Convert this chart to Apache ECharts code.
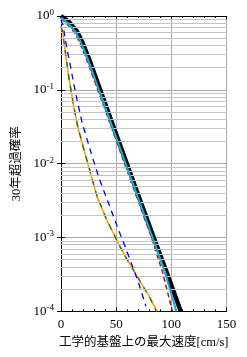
<!DOCTYPE html>
<html>
<head>
<meta charset="utf-8">
<script src="https://cdn.jsdelivr.net/npm/echarts@6/dist/echarts.min.js"></script>
<style>
  html, body { margin: 0; padding: 0; background: #fff; }
  #chart { width: 247px; height: 357px; }
</style>
</head>
<body>
<div id="chart"></div>
<script>
// 読み取った値 (x: 最大速度 cm/s, y: 30年超過確率)
const blackX = [0, 7, 14.6, 19.1, 25.1, 34, 49, 64, 84, 96, 108.5];
const blackY = [1, 0.837, 0.612, 0.447, 0.269, 0.115, 0.0275, 0.0066, 0.001, 0.00033, 0.0001];
const cyanX = [0, 6, 13.6, 18.1, 24.1, 33, 48, 63, 83, 94, 104.5];
const cyanY = [0.95, 0.81, 0.6, 0.44, 0.265, 0.114, 0.0275, 0.0066, 0.001, 0.00035, 0.0001];
const redX = [0, 5, 12.6, 17, 23, 32, 47, 62, 82, 92, 101];
const redY = [0.93, 0.79, 0.59, 0.435, 0.262, 0.113, 0.0275, 0.0066, 0.001, 0.00034, 0.0001];
const orangeX = [0, 1.7, 4.1, 7, 11.6, 15.5, 20.6, 25.1, 32.7, 41.7, 53.7, 60, 70, 80, 87];
const orangeY = [0.724, 0.582, 0.309, 0.151, 0.0589, 0.0302, 0.0158, 0.00912, 0.00355, 0.0017, 0.000741, 0.0005, 0.000282, 0.000158, 0.0001];
const greenX = [0, 1.7, 4.1, 7, 11.6, 15.5, 20.6, 25.1, 32.7, 41.7, 53.7, 60, 70, 80, 86.5];
const greenY = [0.72, 0.58, 0.31, 0.152, 0.059, 0.0303, 0.0159, 0.0092, 0.0036, 0.0017, 0.00074, 0.0005, 0.00028, 0.000158, 0.0001];
const blueX = [0, 1.7, 5.6, 8.6, 11.6, 14.6, 19.1, 26.6, 34.1, 43.2, 52.2, 58.3, 70, 77];
const blueY = [0.891, 0.759, 0.347, 0.209, 0.12, 0.0724, 0.0363, 0.0151, 0.0066, 0.00288, 0.00126, 0.000741, 0.000251, 0.000117];

const xTicks = [0, 50, 100, 150];
const decadeLabels = { 1: "0", 0.1: "-1", 0.01: "-2", 0.001: "-3", 0.0001: "-4" };

const zip = (xs, ys) => xs.map((x, i) => [x, ys[i]]);

// 副目盛りの横線 (2〜9 × 10^n)
const minorLines = [];
[0.0001, 0.001, 0.01, 0.1].forEach((d) => {
  for (let m = 2; m <= 9; m++) {
    const v = +(m * d).toPrecision(3);
    minorLines.push([{ coord: [0, v] }, { coord: [150, v] }]);
  }
});

const font = '"Liberation Serif", "DejaVu Serif", serif';
const cjk = '"Liberation Serif", "Noto Sans CJK JP", serif';

const myChart = echarts.init(document.getElementById("chart"));

const line = (name, data, color, width, type, z) => ({
  name: name,
  type: "line",
  data: data,
  showSymbol: false,
  symbol: "none",
  z: z,
  lineStyle: { color: color, width: width, type: type, join: "round" },
  animation: false,
});

const option = {
  animation: false,
  grid: { left: 61, right: 20.5, top: 16, bottom: 45.7 },
  xAxis: [
    {
      type: "value",
      min: 0,
      max: 150,
      interval: 50,
      position: "bottom",
      axisLine: { show: true, lineStyle: { color: "#000", width: 1 } },
      axisTick: { show: true, inside: true, length: 4, lineStyle: { color: "#000" } },
      minorTick: { show: true, splitNumber: 5, length: 2, lineStyle: { color: "#000" } },
      splitLine: { show: true, lineStyle: { color: "#aaa", width: 1 } },
      axisLabel: {
        color: "#000",
        fontFamily: font,
        fontSize: 13,
        margin: 7,
        formatter: (v) => (xTicks.includes(v) ? String(v) : ""),
      },
      name: "工学的基盤上の最大速度[cm/s]",
      nameLocation: "middle",
      nameGap: 22,
      nameTextStyle: { color: "#000", fontFamily: cjk, fontSize: 12.5 },
    },
    {
      type: "value",
      min: 0,
      max: 150,
      interval: 50,
      position: "top",
      axisLine: { show: true, lineStyle: { color: "#000", width: 1 } },
      axisTick: { show: true, inside: true, length: 4, lineStyle: { color: "#000" } },
      minorTick: { show: true, splitNumber: 5, length: 2, lineStyle: { color: "#000" } },
      splitLine: { show: false },
      axisLabel: { show: false },
    },
  ],
  yAxis: [
    {
      type: "log",
      logBase: 10,
      min: 0.0001,
      max: 1,
      position: "left",
      axisLine: { show: true, lineStyle: { color: "#000", width: 1 } },
      axisTick: { show: true, inside: true, length: 4, lineStyle: { color: "#000" } },
      splitLine: { show: true, lineStyle: { color: "#aaa", width: 1 } },
      axisLabel: {
        margin: 7,
        formatter: (v) => {
          const k = decadeLabels[+v.toPrecision(3)];
          return k === undefined ? "" : "{b|10}{s|" + k + "}";
        },
        rich: {
          b: { color: "#000", fontFamily: font, fontSize: 13 },
          s: { color: "#000", fontFamily: font, fontSize: 9, verticalAlign: "bottom", padding: [0, 0, 7, 0] },
        },
      },
      name: "30年超過確率",
      nameLocation: "middle",
      nameGap: 33,
      nameRotate: 90,
      nameTextStyle: { color: "#000", fontFamily: cjk, fontSize: 12.5 },
    },
    {
      type: "log",
      logBase: 10,
      min: 0.0001,
      max: 1,
      position: "right",
      axisLine: { show: true, lineStyle: { color: "#000", width: 1 } },
      axisTick: { show: true, inside: true, length: 4, lineStyle: { color: "#000" } },
      splitLine: { show: false },
      axisLabel: { show: false },
    },
  ],
  series: [
    {
      type: "line",
      data: [],
      markLine: {
        silent: true,
        symbol: "none",
        label: { show: false },
        lineStyle: { color: "#c4c4c4", width: 1, type: "solid" },
        data: minorLines,
        animation: false,
      },
    },
    line("black", zip(blackX, blackY), "#000", 4.5, "solid", 3),
    line("red", zip(redX, redY), "#e00000", 1.5, [5, 3], 4),
    line("cyan", zip(cyanX, cyanY), "#00b4e6", 2, "solid", 5),
    line("orange", zip(orangeX, orangeY), "#ffa000", 1.6, "solid", 3),
    line("green", zip(greenX, greenY), "#1e6e1e", 1.3, [6, 6], 4),
    line("blue", zip(blueX, blueY), "#0000ff", 1.3, [6, 5], 5),
  ],
};

myChart.setOption(option);
window.onresize = function () {
  myChart.resize();
};
</script>
</body>
</html>
